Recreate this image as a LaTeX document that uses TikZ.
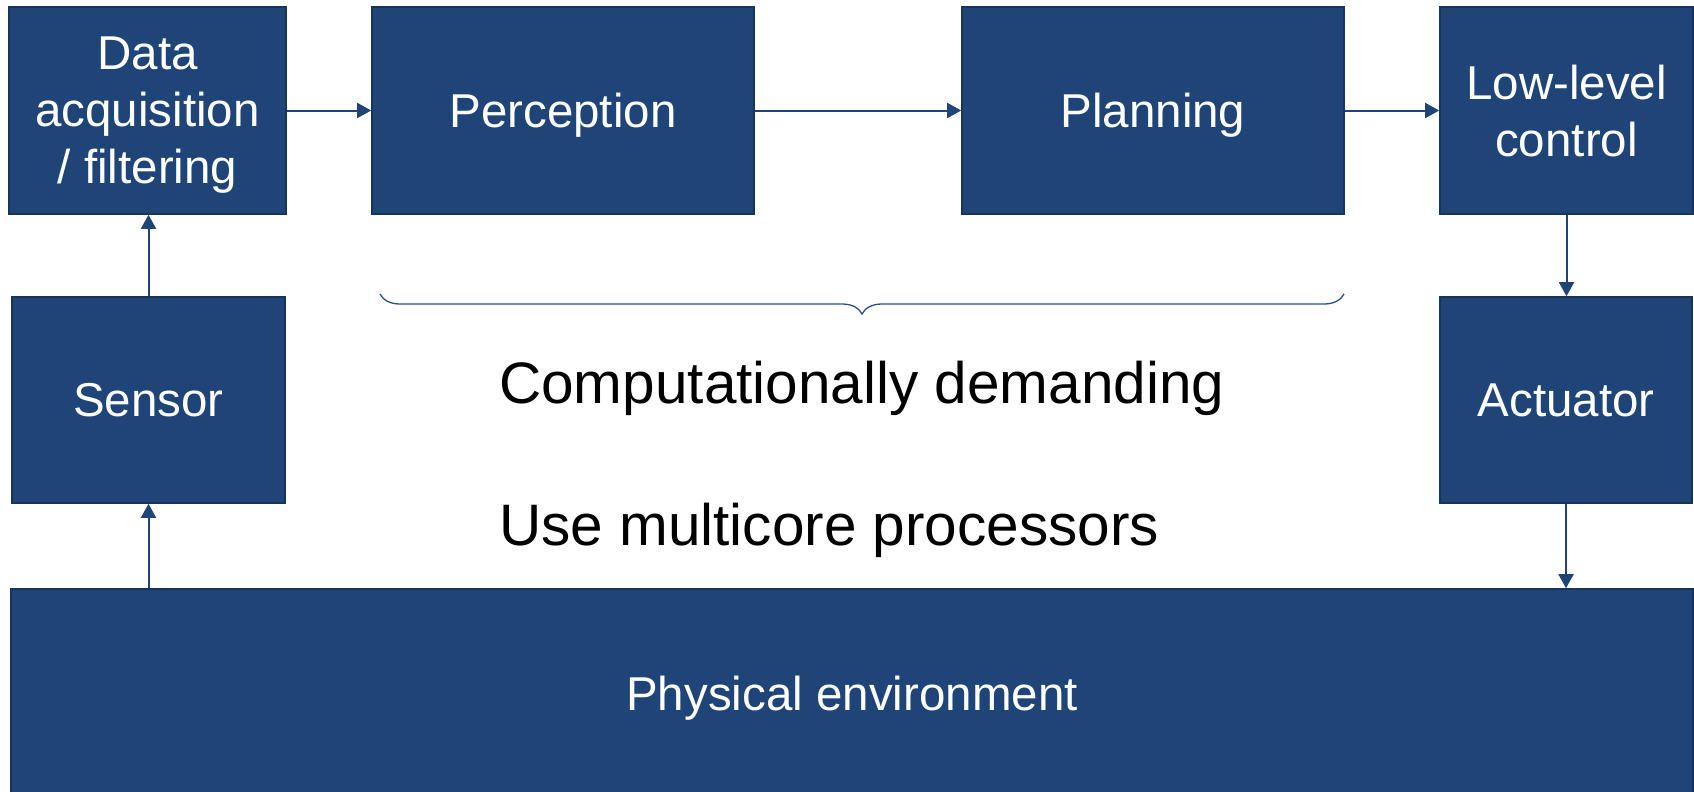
\documentclass[tikz,border=0pt]{standalone}
\usepackage{fontspec}
\setmainfont{Liberation Sans}
\usetikzlibrary{arrows.meta,decorations.pathreplacing}
\definecolor{boxfill}{RGB}{31,69,120}
\definecolor{boxedge}{RGB}{22,52,92}
\definecolor{bracecol}{RGB}{40,80,140}
\tikzset{
  x=1pt, y=-1pt,
  block/.style={draw=boxedge, line width=1.6pt, fill=boxfill, text=white,
    inner sep=0pt, align=center, text depth=0pt,
    font=\fontsize{47.5}{57}\selectfont},
  flow/.style={draw=boxfill, line width=2pt,
    -{Triangle[length=14pt,width=15pt]}},
  note/.style={text=black, inner sep=0pt, anchor=base west,
    font=\fontsize{58.5}{70}\selectfont}
}
\begin{document}
\begin{tikzpicture}
\useasboundingbox (0,0) rectangle (1694,792);

% processing chain
\node[block, minimum width=277pt, minimum height=207pt] (data) at (147.5,110.5) {Data\\acquisition\\/ filtering};
\node[block, minimum width=382pt, minimum height=207pt] (perc) at (563,110.5) {Perception};
\node[block, minimum width=382pt, minimum height=207pt] (plan) at (1153,110.5) {Planning};
\node[block, minimum width=253pt, minimum height=207pt] (low) at (1566.5,110.5) {Low-level\\control};

% sensing and actuation
\node[block, minimum width=273pt, minimum height=206pt] (sensor) at (148.5,400) {Sensor};
\node[block, minimum width=252pt, minimum height=206pt] (act) at (1566,400) {Actuator};

% environment
\node[block, minimum width=1682pt, minimum height=215pt] (phys) at (852,696.5) {};
\node[text=white, inner sep=0pt, text depth=0pt, font=\fontsize{47.5}{57}\selectfont] (physlabel) at (852,693) {Physical environment};

% connectors
\draw[flow] (data.east) -- (perc.west);
\draw[flow] (perc.east) -- (plan.west);
\draw[flow] (plan.east) -- (low.west);
\draw[flow] (low.south) -- (low.south |- act.north);
\draw[flow] (act.south) -- (act.south |- phys.north);
\draw[flow] (sensor.south |- phys.north) -- (sensor.south);
\draw[flow] (sensor.north) -- (sensor.north |- data.south);

% brace under perception and planning
\draw[bracecol, line width=1.3pt, decorate,
  decoration={brace, mirror, amplitude=20pt}] (380,294) -- (1344,294);

% annotations
\node[note] (demand) at (499,403) {Computationally demanding};
\node[note] (multi) at (499,545) {Use multicore processors};
\end{tikzpicture}
\end{document}
